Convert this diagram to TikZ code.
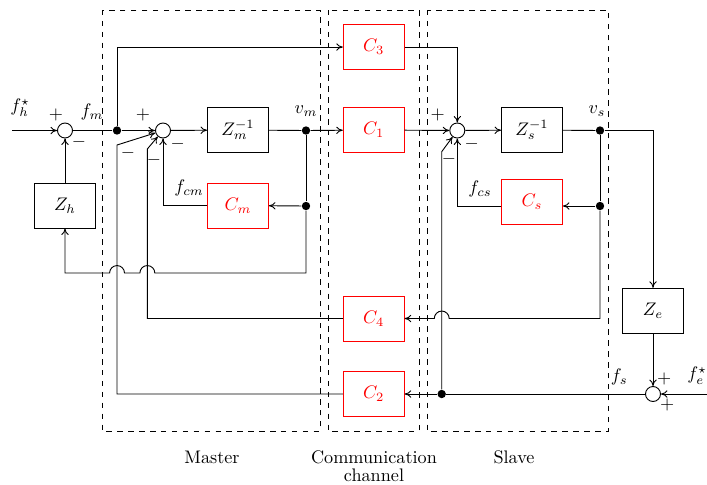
\documentclass[tikz,border=0pt]{standalone}
\usetikzlibrary{arrows.meta}
\begin{document}
\begin{tikzpicture}[x=0.55pt,y=-0.55pt,line width=0.5pt,
 >={To[length=3.6pt,width=4pt]},
 blk/.style={draw,minimum width=33.5pt,minimum height=24.75pt,inner sep=0pt},
 cblk/.style={blk,draw=red,text=red},
 sumc/.style={draw,circle,minimum size=8.25pt,inner sep=0pt},
 dotn/.style={fill,circle,minimum size=4.6pt,inner sep=0pt},
 region/.style={draw,dashed},
 lbl/.style={inner sep=0pt}]
\useasboundingbox (0,0) rectangle (707,484);
% regions
\draw[region] (102,10) rectangle (320,431);
\draw[region] (328,10) rectangle (419,431);
\draw[region] (427,10) rectangle (608,431);
% nodes
\node[sumc] (s1) at (65,130.5) {};
\node[dotn] (d1) at (117,130.5) {};
\node[sumc] (s2) at (163,130.5) {};
\node[blk] (Zm) at (238,130) {$Z_m^{-1}$};
\node[dotn] (dvm) at (306,130.5) {};
\node[cblk] (C1) at (373.7,130) {$C_1$};
\node[sumc] (s4) at (457.3,130.5) {};
\node[blk] (Zs) at (532,130) {$Z_s^{-1}$};
\node[dotn] (dvs) at (600,130.5) {};
\node[cblk] (C3) at (373.7,47) {$C_3$};
\node[blk] (Zh) at (65,205.5) {$Z_h$};
\node[cblk] (Cm) at (238,205.5) {$C_m$};
\node[dotn] (dcm) at (306,206) {};
\node[cblk] (Cs) at (532,202) {$C_s$};
\node[dotn] (dcs) at (600,206) {};
\node[cblk] (C4) at (373.7,318.5) {$C_4$};
\node[blk] (Ze) at (653,310.8) {$Z_e$};
\node[cblk] (C2) at (373.7,394) {$C_2$};
\node[dotn] (dfs) at (441.7,394) {};
\node[sumc] (s3) at (653,394) {};
\coordinate (fhin) at (12,130.5);
\coordinate (fein) at (707,394);
% main forward path
\draw[->] (fhin) -- (s1);
\draw (s1) -- (d1);
\draw[->] (d1) -- (s2);
\draw[->] (s2) -- (Zm);
\draw (Zm) -- (dvm);
\draw[->] (dvm) -- (C1);
\draw[->] (C1) -- (s4);
\draw[->] (s4) -- (Zs);
\draw (Zs) -- (dvs);
\draw[->] (dvs) -| (Ze);
\draw[->] (Ze) -- (s3);
\draw[->] (fein) -- (s3);
\draw (s3) -- (dfs);
\draw[->] (dfs) -- (C2);
\draw[->] (d1) |- (C3);
\draw[->] (C3) -| (s4);
\draw[->] (Zh) -- (s1);
% master local loop
\draw (dvm) -- (dcm);
\draw[->] (dcm) -- (Cm);
\draw[->] (Cm) -| (s2);
\draw[->] (dcm) -- (306,273) -- (154.8,273) arc[start angle=0,end angle=180,radius=4.1pt]
  -- (124.5,273) arc[start angle=0,end angle=180,radius=4.1pt] -- (65,273) -- (Zh);
% slave local loop
\draw (dvs) -- (dcs);
\draw[->] (dcs) -- (dcs -| Cs.east);
\draw[->] (dcs -| Cs.west) -| (s4);
\draw[->] (dcs) -- (600,318.5) -- (449.2,318.5) arc[start angle=0,end angle=180,radius=4.1pt] -- (C4);
% returns
\draw[->] (C4) -| (147.3,149) -- (s2);
\draw[->] (C2) -| (117,145) -- (s2);
\draw[->] (dfs) -- (441.7,151.7) -- (s4);
% labels
\node[lbl] at (20,108) {$f_h^\star$};
\node[lbl] at (56,115) {$+$};
\node[lbl] at (92,112) {$f_m$};
\node[lbl] at (79,142) {$-$};
\node[lbl] at (143,115) {$+$};
\node[lbl] at (128,153) {$-$};
\node[lbl] at (154,160) {$-$};
\node[lbl] at (177.7,144.3) {$-$};
\node[lbl] at (189,188) {$f_{cm}$};
\node[lbl] at (306,111) {$v_m$};
\node[lbl] at (437.7,115) {$+$};
\node[lbl] at (471.7,144.3) {$-$};
\node[lbl] at (449,159.3) {$-$};
\node[lbl] at (480,189) {$f_{cs}$};
\node[lbl] at (597,111) {$v_s$};
\node[lbl] at (619.3,377) {$f_s$};
\node[lbl] at (664.3,379.3) {$+$};
\node[lbl] at (667.3,405) {$+$};
\node[lbl] at (697,375.7) {$f_e^\star$};
\node at (212,457) {Master};
\node at (374,457) {Communication};
\node at (374,475) {channel};
\node at (514,457) {Slave};
\end{tikzpicture}
\end{document}
